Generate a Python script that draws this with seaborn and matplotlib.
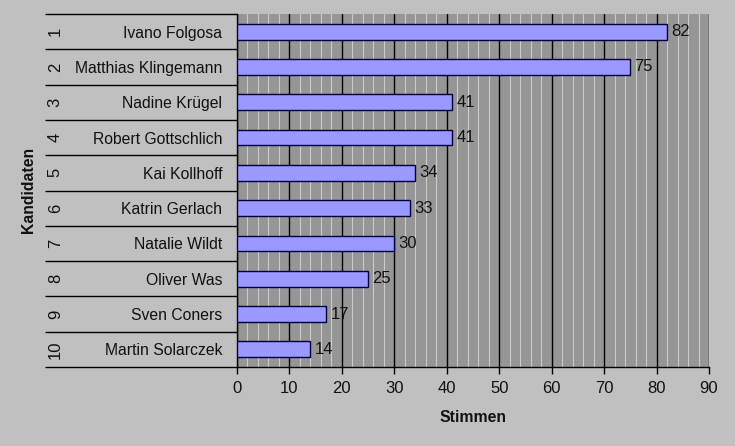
import pandas as pd
import seaborn as sns
import matplotlib
matplotlib.use("Agg")
from matplotlib import pyplot as plt
from matplotlib.ticker import MultipleLocator, FixedLocator, NullFormatter

# Data
ranks = ["1", "2", "3", "4", "5", "6", "7", "8", "9", "10"]
names = ["Ivano Folgosa", "Matthias Klingemann", "Nadine Krügel",
         "Robert Gottschlich", "Kai Kollhoff", "Katrin Gerlach",
         "Natalie Wildt", "Oliver Was", "Sven Coners", "Martin Solarczek"]
votes = [82, 75, 41, 41, 34, 33, 30, 25, 17, 14]


def makeplot():
    df = pd.DataFrame({"Kandidat": names, "Stimmen": votes})

    sns.set_style("white")
    plt.rcParams["font.family"] = ["Liberation Sans", "DejaVu Sans"]

    fig = plt.figure(figsize=(7.35, 4.46), dpi=100, facecolor="#c0c0c0")
    ax = fig.add_axes([237 / 735, 1 - 367 / 446, 472 / 735, 353 / 446])
    ax.set_facecolor("#969696")

    sns.barplot(data=df, x="Stimmen", y="Kandidat", orient="h", ax=ax,
                color="#9999ff", saturation=1, width=0.45,
                edgecolor="#000040", linewidth=1, zorder=3)

    # value labels
    for i, v in enumerate(votes):
        ax.text(v + 0.8, i, str(v), va="center", ha="left", fontsize=12,
                color="#111111", zorder=4)

    # x axis
    ax.set_xlim(0, 90)
    ax.xaxis.set_major_locator(MultipleLocator(10))
    ax.xaxis.set_minor_locator(MultipleLocator(2))
    ax.grid(axis="x", which="major", color="black", linewidth=1, zorder=1)
    ax.grid(axis="x", which="minor", color="#cccccc", linewidth=0.8, zorder=0)
    ax.set_axisbelow(True)
    ax.tick_params(axis="x", which="major", direction="out", length=5,
                   width=1, color="black", labelsize=12, labelcolor="#111111",
                   pad=5, bottom=True)
    ax.tick_params(axis="x", which="minor", length=0, bottom=False)
    for line in ax.xaxis.get_gridlines()[-1:]:
        line.set_visible(False)

    # y axis: category boundaries as long ticks, names as minor labels
    n = len(names)
    ax.set_ylim(n - 0.5, -0.5)
    ax.yaxis.set_major_locator(FixedLocator([i - 0.5 for i in range(n + 1)]))
    ax.yaxis.set_major_formatter(NullFormatter())
    ax.yaxis.set_minor_locator(FixedLocator(list(range(n))))
    ax.set_yticklabels(names, minor=True)
    ax.tick_params(axis="y", which="major", direction="out", length=192 * 0.72,
                   width=1, color="black", left=True)
    ax.tick_params(axis="y", which="minor", length=0, labelsize=11.3,
                   labelcolor="#111111", pad=10.5, left=True)

    for i, r in enumerate(ranks):
        ax.text(-0.385, i, r, transform=ax.get_yaxis_transform(), rotation=90,
                va="center", ha="center", fontsize=12, color="#111111")

    for side in ["top", "right"]:
        ax.spines[side].set_visible(False)
    for side in ["left", "bottom"]:
        ax.spines[side].set_color("black")
        ax.spines[side].set_linewidth(1)

    ax.set_xlabel("")
    ax.set_ylabel("")
    fig.text(473 / 735, 1 - 417 / 446, "Stimmen", va="center", ha="center",
             fontsize=11.3, fontweight="bold", color="#111111")
    fig.text(28 / 735, 1 - 190 / 446, "Kandidaten", rotation=90, va="center",
             ha="center", fontsize=11.3, fontweight="bold", color="#111111")

    fig.savefig("out.png", dpi=100, facecolor=fig.get_facecolor())


if __name__ == "__main__":
    makeplot()
